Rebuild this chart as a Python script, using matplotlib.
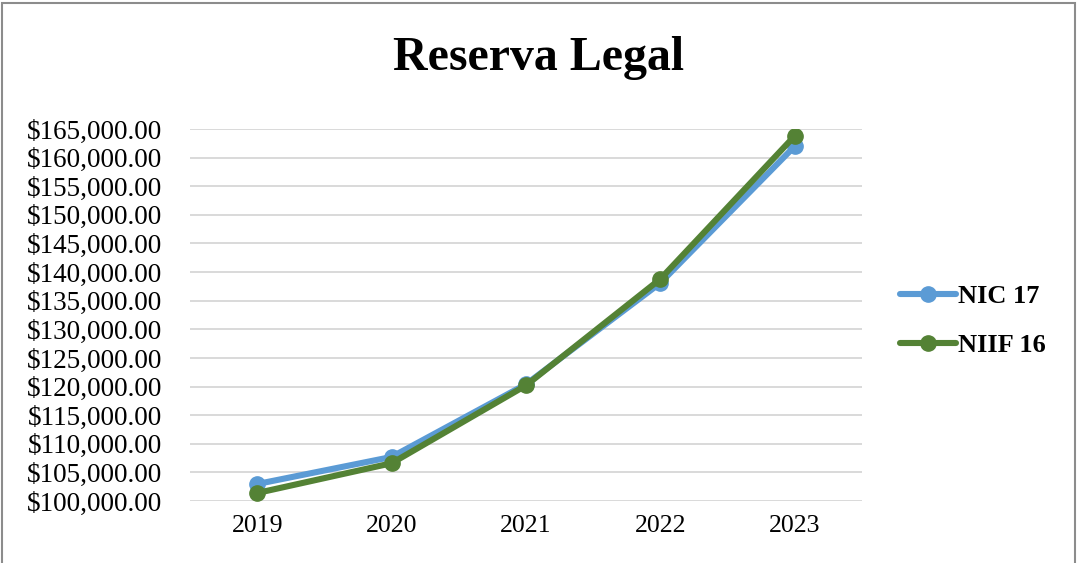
import matplotlib
matplotlib.use('Agg')
import matplotlib.pyplot as plt
from matplotlib.patches import Rectangle
from matplotlib.ticker import FuncFormatter

years = ['2019', '2020', '2021', '2022', '2023']
nic17 = [102970, 107700, 120400, 138100, 162000]
niif16 = [101400, 106600, 120200, 138800, 163800]

plt.rcParams.update({
    "font.family": ["Liberation Serif", "DejaVu Serif"],
    "font.size": 18,
})

fig = plt.figure(figsize=(10.78, 5.63), dpi=100)
ax = fig.add_axes([0.1763, 0.1101, 0.6233, 0.6608])

x = list(range(len(years)))
ax.plot(x, nic17, color='#5B9BD5', lw=4.4, marker='o', ms=11, label='NIC 17', solid_capstyle='round')
ax.plot(x, niif16, color='#548235', lw=4.4, marker='o', ms=11, label='NIIF 16', solid_capstyle='round')

ax.set_xlim(-0.5, 4.5)
ax.set_ylim(100000, 165000)
ax.set_yticks(range(100000, 165001, 5000))
ax.yaxis.set_major_formatter(FuncFormatter(lambda v, p: f'${v:,.2f}'))
ax.set_xticks(x)
ax.set_xticklabels(years)
ax.grid(axis='y', color='#D9D9D9', lw=1.4)
ax.set_axisbelow(True)
for s in ax.spines.values():
    s.set_visible(False)
ax.tick_params(axis='y', length=0, pad=20, labelsize=19.5)
ax.tick_params(axis='x', length=0, pad=10, labelsize=18.5)

fig.text(0.5, 0.897, 'Reserva Legal', ha='center', va='center', fontsize=34.5, fontweight='bold')

leg = fig.legend(loc='center left', bbox_to_anchor=(0.835, 0.43), frameon=False,
                 prop={'weight': 'bold', 'size': 19}, handlelength=2.1, handletextpad=0.1,
                 labelspacing=0.95, borderpad=0, borderaxespad=0)

fig.patches.append(Rectangle((0.002, -0.02), 0.995, 1.014, transform=fig.transFigure,
                             fill=False, edgecolor='#8C8C8C', lw=1.5))

fig.savefig('out.png', dpi=100)
